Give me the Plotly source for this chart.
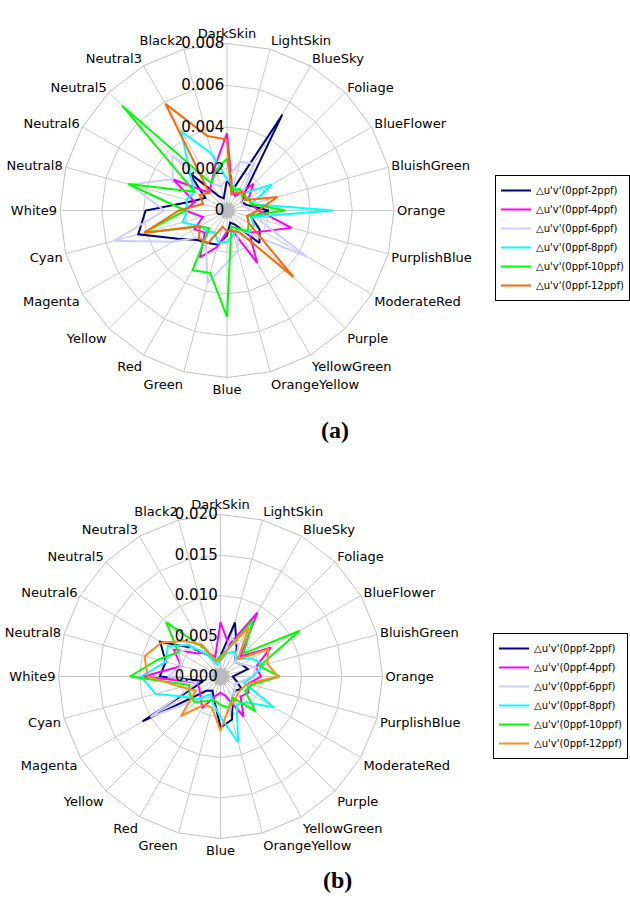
import plotly.graph_objects as go

categories = ["DarkSkin", "LightSkin", "BlueSky", "Foliage", "BlueFlower", "BluishGreen",
              "Orange", "PurplishBlue", "ModerateRed", "Purple", "YellowGreen", "OrangeYellow",
              "Blue", "Green", "Red", "Yellow", "Magenta", "Cyan", "White9", "Neutral8",
              "Neutral6", "Neutral5", "Neutral3", "Black2"]

series_names = ["△u'v'(0ppf-2ppf)", "△u'v'(0ppf-4ppf)", "△u'v'(0ppf-6ppf)",
                "△u'v'(0ppf-8ppf)", "△u'v'(0ppf-10ppf)", "△u'v'(0ppf-12ppf)"]

# ---- chart (a) values ----
a_2ppf = [0.0015, 0.0010, 0.0053, 0.0012, 0.0008, 0.0010, 0.0020, 0.0012, 0.0018, 0.0022, 0.0008, 0.0006,
          0.0012, 0.0017, 0.0018, 0.0020, 0.0027, 0.0044, 0.0039, 0.0017, 0.0012, 0.0026, 0.0008, 0.0006]
a_4ppf = [0.0037, 0.0010, 0.0008, 0.0018, 0.0012, 0.0012, 0.0015, 0.0032, 0.0020, 0.0015, 0.0029, 0.0010,
          0.0010, 0.0018, 0.0026, 0.0015, 0.0018, 0.0012, 0.0020, 0.0016, 0.0030, 0.0012, 0.0015, 0.0022]
a_6ppf = [0.0015, 0.0024, 0.0026, 0.0010, 0.0008, 0.0008, 0.0012, 0.0015, 0.0044, 0.0016, 0.0010, 0.0020,
          0.0025, 0.0036, 0.0020, 0.0018, 0.0030, 0.0056, 0.0030, 0.0048, 0.0030, 0.0037, 0.0015, 0.0012]
a_8ppf = [0.0015, 0.0012, 0.0010, 0.0012, 0.0025, 0.0012, 0.0051, 0.0012, 0.0015, 0.0015, 0.0010, 0.0012,
          0.0015, 0.0016, 0.0012, 0.0014, 0.0015, 0.0022, 0.0019, 0.0020, 0.0018, 0.0025, 0.0044, 0.0028]
a_10ppf = [0.0025, 0.0010, 0.0012, 0.0010, 0.0012, 0.0012, 0.0028, 0.0010, 0.0012, 0.0014, 0.0010, 0.0008,
           0.0051, 0.0031, 0.0033, 0.0012, 0.0015, 0.0041, 0.0020, 0.0049, 0.0018, 0.0071, 0.0015, 0.0020]
a_12ppf = [0.0034, 0.0008, 0.0010, 0.0012, 0.0010, 0.0025, 0.0015, 0.0010, 0.0012, 0.0045, 0.0012, 0.0010,
           0.0010, 0.0008, 0.0018, 0.0019, 0.0015, 0.0041, 0.0023, 0.0012, 0.0015, 0.0012, 0.0059, 0.0037]
a_base = [0.0004, 0.0002, 0.0004, 0.0002, 0.0004, 0.0002, 0.0004, 0.0002, 0.0004, 0.0002, 0.0004, 0.0002,
          0.0004, 0.0002, 0.0004, 0.0002, 0.0004, 0.0002, 0.0004, 0.0002, 0.0004, 0.0002, 0.0004, 0.0002]

# ---- chart (b) values ----
b_2ppf = [0.0025, 0.0069, 0.0040, 0.0025, 0.0030, 0.0035, 0.0015, 0.0020, 0.0030, 0.0025, 0.0030, 0.0055,
          0.0063, 0.0030, 0.0020, 0.0025, 0.0111, 0.0022, 0.0075, 0.0070, 0.0086, 0.0050, 0.0030, 0.0020]
b_4ppf = [0.0067, 0.0040, 0.0091, 0.0035, 0.0072, 0.0045, 0.0050, 0.0035, 0.0040, 0.0035, 0.0057, 0.0025,
          0.0020, 0.0025, 0.0045, 0.0035, 0.0030, 0.0030, 0.0095, 0.0050, 0.0067, 0.0040, 0.0035, 0.0025]
b_6ppf = [0.0020, 0.0050, 0.0045, 0.0025, 0.0030, 0.0045, 0.0040, 0.0025, 0.0020, 0.0025, 0.0030, 0.0045,
          0.0035, 0.0030, 0.0030, 0.0040, 0.0100, 0.0030, 0.0065, 0.0050, 0.0060, 0.0050, 0.0035, 0.0020]
b_8ppf = [0.0020, 0.0030, 0.0035, 0.0030, 0.0045, 0.0055, 0.0040, 0.0030, 0.0076, 0.0045, 0.0040, 0.0084,
          0.0050, 0.0035, 0.0025, 0.0040, 0.0050, 0.0083, 0.0098, 0.0070, 0.0075, 0.0055, 0.0030, 0.0015]
b_10ppf = [0.0025, 0.0035, 0.0081, 0.0040, 0.0113, 0.0050, 0.0073, 0.0040, 0.0035, 0.0061, 0.0030, 0.0040,
           0.0035, 0.0030, 0.0035, 0.0045, 0.0044, 0.0040, 0.0112, 0.0080, 0.0060, 0.0095, 0.0040, 0.0020]
b_12ppf = [0.0020, 0.0035, 0.0070, 0.0030, 0.0068, 0.0060, 0.0071, 0.0035, 0.0030, 0.0030, 0.0035, 0.0040,
           0.0067, 0.0040, 0.0040, 0.0069, 0.0035, 0.0050, 0.0090, 0.0097, 0.0084, 0.0062, 0.0045, 0.0020]
b_base = [0.0012, 0.0006, 0.0012, 0.0006, 0.0012, 0.0006, 0.0012, 0.0006, 0.0012, 0.0006, 0.0012, 0.0006,
          0.0012, 0.0006, 0.0012, 0.0006, 0.0012, 0.0006, 0.0012, 0.0006, 0.0012, 0.0006, 0.0012, 0.0006]

a_ticks = [0, 0.002, 0.004, 0.006, 0.008]
a_ticktext = ["0", "0.002", "0.004", "0.006", "0.008"]
b_ticks = [0, 0.005, 0.010, 0.015, 0.020]
b_ticktext = ["0.000", "0.005", "0.010", "0.015", "0.020"]

colors_a = ["#000080", "#FF00FF", "#CCCCFF", "#00FFFF", "#00FF00", "#FF6600"]
colors_b = ["#000080", "#FF00FF", "#CCCCFF", "#00FFFF", "#00FF00", "#FF8C1A"]

fig = go.Figure()

def closed(vals):
    return list(vals) + [vals[0]]

theta_closed = categories + [categories[0]]

for name, vals, col in zip(series_names, [a_2ppf, a_4ppf, a_6ppf, a_8ppf, a_10ppf, a_12ppf], colors_a):
    fig.add_trace(go.Scatterpolar(r=closed(vals), theta=theta_closed, mode="lines", name=name,
                                  line=dict(color=col, width=2), subplot="polar", legend="legend"))
fig.add_trace(go.Scatterpolar(r=closed(a_base), theta=theta_closed, mode="lines", showlegend=False,
                              line=dict(color="#BBBBBB", width=2), fill="toself", fillcolor="#BBBBBB",
                              subplot="polar"))

for name, vals, col in zip(series_names, [b_2ppf, b_4ppf, b_6ppf, b_8ppf, b_10ppf, b_12ppf], colors_b):
    fig.add_trace(go.Scatterpolar(r=closed(vals), theta=theta_closed, mode="lines", name=name,
                                  line=dict(color=col, width=2), subplot="polar2", legend="legend2"))
fig.add_trace(go.Scatterpolar(r=closed(b_base), theta=theta_closed, mode="lines", showlegend=False,
                              line=dict(color="#BBBBBB", width=2), fill="toself", fillcolor="#BBBBBB",
                              subplot="polar2"))

W, H = 630, 911
def dom(cx, cy, R):
    return dict(x=[(cx - R) / W, (cx + R) / W], y=[1 - (cy + R) / H, 1 - (cy - R) / H])

tickfont = dict(family="DejaVu Sans", size=13, color="#000000")
radfont = dict(family="DejaVu Sans", size=15, color="#000000")

def polar_cfg(d, rng, tv, tt):
    return dict(
        domain=d,
        bgcolor="white",
        gridshape="linear",
        angularaxis=dict(type="category", categoryarray=categories, direction="clockwise",
                         rotation=90, tickfont=tickfont, showline=True, linecolor="#C0C0C0",
                         linewidth=1, gridcolor="#C8C8C8", gridwidth=1, ticks=""),
        radialaxis=dict(range=rng, tickvals=tv, ticktext=tt, angle=90, side="counterclockwise",
                        tickangle=90, tickfont=radfont, showline=False, gridcolor="#C8C8C8",
                        gridwidth=1, ticks=""),
    )

legfont = dict(family="DejaVu Sans", size=10, color="#000000")

fig.update_layout(
    width=W, height=H,
    margin=dict(l=0, r=0, t=0, b=0),
    paper_bgcolor="white",
    polar=polar_cfg(dom(227, 210.5, 167), [0, 0.008], a_ticks, a_ticktext),
    polar2=polar_cfg(dom(220.5, 676.5, 162), [0, 0.020], b_ticks, b_ticktext),
    legend=dict(x=495 / W, y=1 - 175 / H, xanchor="left", yanchor="top", font=legfont,
                bordercolor="#000000", borderwidth=1, bgcolor="white", tracegroupgap=0,
                itemwidth=30),
    legend2=dict(x=493 / W, y=1 - 633 / H, xanchor="left", yanchor="top", font=legfont,
                 bordercolor="#000000", borderwidth=1, bgcolor="white", tracegroupgap=0,
                 itemwidth=30),
    annotations=[
        dict(text="<b>(a)</b>", x=335 / W, y=1 - 430 / H, xref="paper", yref="paper",
             showarrow=False, font=dict(family="Liberation Serif", size=24, color="#000000")),
        dict(text="<b>(b)</b>", x=337 / W, y=1 - 895 / H, xref="paper", yref="paper",
             showarrow=False, font=dict(family="Liberation Serif", size=24, color="#000000")),
    ],
)

fig.write_html("out.html")
